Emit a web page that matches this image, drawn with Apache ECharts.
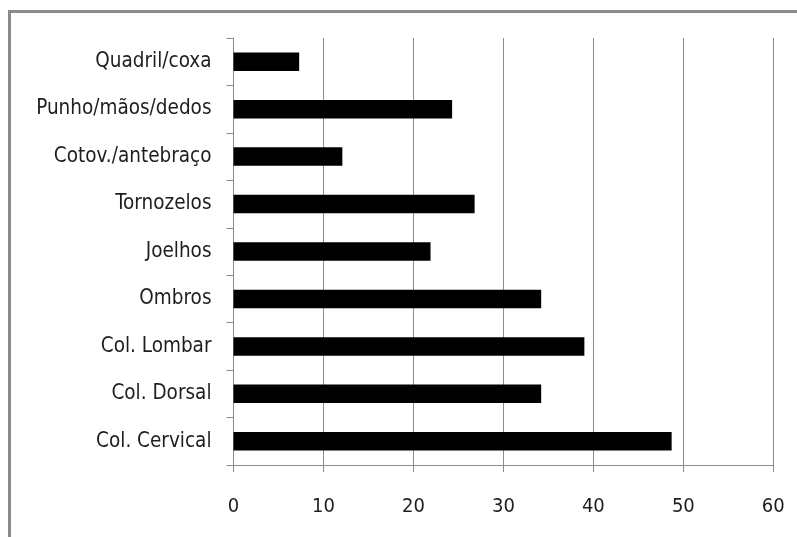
<!DOCTYPE html>
<html>
<head>
<meta charset="utf-8">
<script src="https://cdn.jsdelivr.net/npm/echarts@6/dist/echarts.min.js"></script>
<style>
  html, body { margin: 0; padding: 0; background: #fff; }
  #chart { width: 797px; height: 537px; }
</style>
</head>
<body>
<div id="chart"></div>
<script>
// Body regions, listed bottom to top as the category axis draws them
const regions = [
  'Col. Cervical',
  'Col. Dorsal',
  'Col. Lombar',
  'Ombros',
  'Joelhos',
  'Tornozelos',
  'Cotov./antebraço',
  'Punho/mãos/dedos',
  'Quadril/coxa'
];

// Percentage per region
const percentages = [48.7, 34.2, 39.0, 34.2, 21.9, 26.8, 12.1, 24.3, 7.3];

// Value axis ticks
const axisMin = 0;
const axisMax = 60;
const axisStep = 10;

const FONT = '"DejaVu Sans Condensed", "DejaVu Sans", sans-serif';
const chart = echarts.init(document.getElementById('chart'), null, { renderer: 'canvas' });

chart.setOption({
  animation: false,
  backgroundColor: '#ffffff',
  grid: { left: 233.5, right: 23.7, top: 38, bottom: 72, containLabel: false },
  graphic: [
    {
      type: 'polyline',
      shape: { points: [[9.5, 600], [9.5, 11.5], [900, 11.5]] },
      style: { stroke: '#8a8a8a', lineWidth: 3, fill: null },
      silent: true
    }
  ],
  xAxis: {
    type: 'value',
    min: axisMin,
    max: axisMax,
    interval: axisStep,
    axisLine: { show: true, lineStyle: { color: '#8c8c8c', width: 1 } },
    axisTick: { show: true, length: 7, lineStyle: { color: '#8c8c8c' } },
    splitLine: { show: true, lineStyle: { color: '#8c8c8c', width: 1 } },
    axisLabel: { color: '#1e1e1e', fontFamily: FONT, fontSize: 20, margin: 32 }
  },
  yAxis: {
    type: 'category',
    data: regions,
    axisLine: { show: true, lineStyle: { color: '#8c8c8c', width: 1 } },
    axisTick: { show: true, length: 7, lineStyle: { color: '#8c8c8c' } },
    splitLine: { show: false },
    axisLabel: { color: '#1e1e1e', fontFamily: FONT, fontSize: 20.5, margin: 22 }
  },
  series: [
    {
      type: 'bar',
      data: percentages,
      barCategoryGap: '61%',
      itemStyle: { color: '#000000' }
    }
  ]
});
</script>
</body>
</html>
